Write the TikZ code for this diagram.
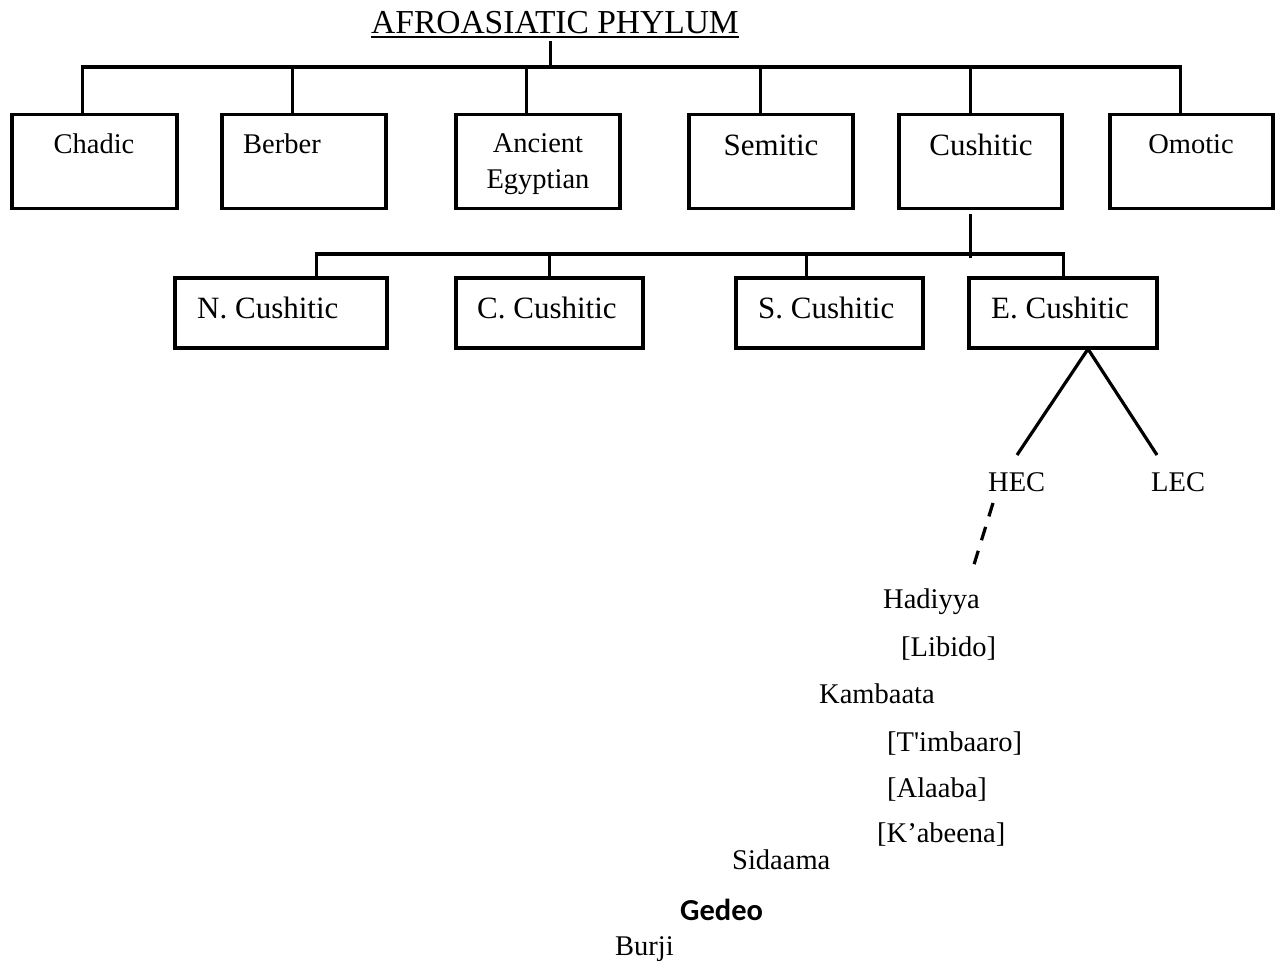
\documentclass[tikz,border=0pt]{standalone}
\usepackage{fontspec}
\setmainfont{Liberation Serif}
\newfontfamily\gedeofont{Carlito}
\begin{document}
\begin{tikzpicture}[x=1pt,y=-1pt,
  box/.style={draw, line width=3.6pt, rectangle, inner sep=0pt},
  lbl/.style={inner sep=0pt, font=\fontsize{28.5}{34}\selectfont},
  lblbig/.style={inner sep=0pt, font=\fontsize{31}{37}\selectfont},
  conn/.style={line width=3pt},
  bar/.style={line width=4pt}]
\useasboundingbox (0,0) rectangle (1280,962);
% title
\node[inner sep=0pt, anchor=base, font=\fontsize{33.5}{40}\selectfont] (title) at (555,33) {AFROASIATIC PHYLUM};
\draw[line width=2.2pt] ([yshift=-4pt]title.base west) -- ([yshift=-4pt]title.base east);
% top bar
\coordinate (t0) at (550,41);
\coordinate (b1) at (82,67);
\coordinate (b2) at (292,67);
\coordinate (b3) at (526,67);
\coordinate (b4) at (760,67);
\coordinate (b5) at (970,67);
\coordinate (b6) at (1180,67);
\draw[conn] (t0) -- (t0 |- b1);
\draw[bar] ([xshift=-1.5pt]b1) -- ([xshift=1.5pt]b6);
% top boxes
\node[box, minimum width=165, minimum height=94] (chadic) at (94.5,161.5) {};
\node[box, minimum width=164, minimum height=94] (berber) at (304,161.5) {};
\node[box, minimum width=164, minimum height=94] (egypt) at (538,161.5) {};
\node[box, minimum width=164, minimum height=94] (semitic) at (771,161.5) {};
\node[box, minimum width=163, minimum height=94] (cushitic) at (980.5,161.5) {};
\node[box, minimum width=163, minimum height=94] (omotic) at (1191.5,161.5) {};
\draw[conn] (b1) -- (b1 |- chadic.north);
\draw[conn] (b2) -- (b2 |- berber.north);
\draw[conn] (b3) -- (b3 |- egypt.north);
\draw[conn] (b4) -- (b4 |- semitic.north);
\draw[conn] (b5) -- (b5 |- cushitic.north);
\draw[conn] (b6) -- (b6 |- omotic.north);
% top box labels
\node[lbl, anchor=base] (tchadic) at (94,153) {Chadic};
\node[lbl, anchor=base west] (tberber) at (243,153) {Berber};
\node[lbl, anchor=base] (tanc) at (538,152) {Ancient};
\node[lbl, anchor=base] (tegy) at (538,188) {Egyptian};
\node[lblbig, anchor=base] (tsemitic) at (771,155) {Semitic};
\node[lblbig, anchor=base] (tcushitic) at (981,155) {Cushitic};
\node[lbl, anchor=base] (tomotic) at (1191,153) {Omotic};
% second bar
\coordinate (c1) at (316,254);
\coordinate (c2) at (549,254);
\coordinate (c3) at (806,254);
\coordinate (c4) at (1063,254);
\coordinate (cdrop) at (970,258);
\draw[conn] ([yshift=-4pt]cushitic.south -| cdrop) -- (cdrop);
\draw[bar] ([xshift=-1.5pt]c1) -- ([xshift=1.5pt]c4);
% second boxes
\node[box, minimum width=212, minimum height=70] (ncush) at (281,313) {};
\node[box, minimum width=187, minimum height=70] (ccush) at (549.5,313) {};
\node[box, minimum width=187, minimum height=70] (scush) at (829.5,313) {};
\node[box, minimum width=188, minimum height=70] (ecush) at (1063,313) {};
\draw[conn] (c1) -- (c1 |- ncush.north);
\draw[conn] (c2) -- (c2 |- ccush.north);
\draw[conn] (c3) -- (c3 |- scush.north);
\draw[conn] (c4) -- (c4 |- ecush.north);
\node[lblbig, anchor=base west] (tncush) at (197,318) {N. Cushitic};
\node[lblbig, anchor=base west] (tccush) at (477,318) {C. Cushitic};
\node[lblbig, anchor=base west] (tscush) at (758,318) {S. Cushitic};
\node[lblbig, anchor=base west] (tecush) at (991,318) {E. Cushitic};
% HEC / LEC
\coordinate (apex) at (1088,349);
\coordinate (hectop) at (1017,455);
\coordinate (lectop) at (1157,455);
\draw[line width=3.2pt] (hectop) -- (apex) -- (lectop);
\node[lbl, anchor=base west] (hec) at (988,491) {HEC};
\node[lbl, anchor=base west] (lec) at (1151,491) {LEC};
\coordinate (d1) at (993,503);
\coordinate (d2) at (972,571);
\draw[line width=3.2pt, dash pattern=on 14pt off 11pt] (d1) -- (d2);
% languages
\node[lbl, anchor=base west] (hadiyya) at (883,608) {Hadiyya};
\node[lbl, anchor=base west] (libido) at (901,656) {[Libido]};
\node[lbl, anchor=base west] (kambaata) at (819,703) {Kambaata};
\node[lbl, anchor=base west] (timbaaro) at (887,751) {[T\textquotesingle imbaaro]};
\node[lbl, anchor=base west] (alaaba) at (887,797) {[Alaaba]};
\node[lbl, anchor=base west] (kabeena) at (877,842) {[K’abeena]};
\node[lbl, anchor=base west] (sidaama) at (732,869) {Sidaama};
\node[inner sep=0pt, anchor=base west, font=\gedeofont\bfseries\fontsize{30.5}{36}\selectfont] (gedeo) at (680,920) {Gedeo};
\node[lbl, anchor=base west] (burji) at (615,955) {Burji};
\end{tikzpicture}
\end{document}
